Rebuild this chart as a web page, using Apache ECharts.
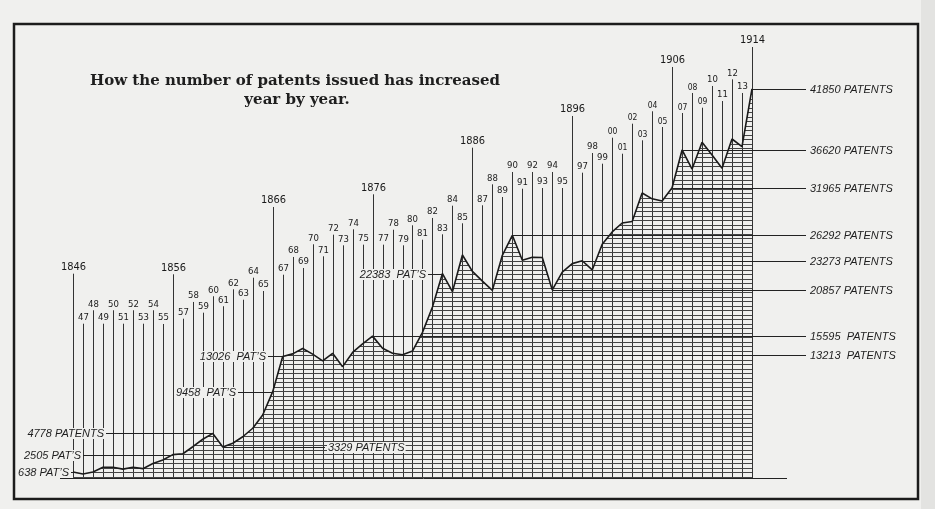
<!DOCTYPE html>
<html><head><meta charset="utf-8">
<script src="https://cdn.jsdelivr.net/npm/echarts@6/dist/echarts.min.js"></script>
<style>html,body{margin:0;padding:0;background:#efefed;}#chart{width:935px;height:509px;}</style>
</head><body><div id="chart"></div>
<script>
// ---------- DATA ----------
const years = [1846,1847,1848,1849,1850,1851,1852,1853,1854,1855,1856,1857,1858,1859,1860,1861,1862,1863,1864,1865,
  1866,1867,1868,1869,1870,1871,1872,1873,1874,1875,1876,1877,1878,1879,1880,1881,1882,1883,1884,1885,
  1886,1887,1888,1889,1890,1891,1892,1893,1894,1895,1896,1897,1898,1899,1900,1901,1902,1903,1904,1905,
  1906,1907,1908,1909,1910,1911,1912,1913,1914];
const yearLabels = ['1846','47','48','49','50','51','52','53','54','55','1856','57','58','59','60','61','62','63','64','65',
  '1866','67','68','69','70','71','72','73','74','75','1876','77','78','79','80','81','82','83','84','85',
  '1886','87','88','89','90','91','92','93','94','95','1896','97','98','99','00','01','02','03','04','05',
  '1906','07','08','09','10','11','12','13','1914'];
const patents = [638,420,650,1150,1150,950,1150,1000,1550,1930,2505,2600,3350,4150,4778,3329,3720,4420,5330,6750,
  9250,13026,13300,13870,13270,12540,13360,11930,13450,14360,15200,13900,13360,13213,13600,15600,18320,21900,19960,23890,
  22130,21100,20110,23860,26000,23330,23650,23620,20150,22050,22970,23273,22290,25050,26360,27320,27490,30540,29910,29680,
  31100,35150,33100,35970,34610,33180,36320,35500,41700];
// level (in patents) up to which each year's guide line is drawn
const guideTop = [21890,16530,17970,16530,17970,16530,17970,16530,17970,16500,21825,17070,18860,17710,19470,18400,20220,19100,21460,20035,
  29035,21780,23680,22500,25040,23750,26070,24930,26645,25000,30395,25000,26600,24930,27075,25530,27860,26110,29175,27290,
  35390,29220,31465,30105,32785,30995,32785,31070,32785,31070,38785,32710,34820,33675,36460,34745,37960,36180,39290,37605,
  44035,39105,41250,39675,42000,40390,42715,41250,46175];
const annYears = [1914,1907,1906,1890,1897,1894,1876,1879,1846,1856,1860,1866,1867,1883,1861];
const annTexts = ['41850 PATENTS','36620 PATENTS','31965 PATENTS','26292 PATENTS','23273 PATENTS','20857 PATENTS',
  '15595  PATENTS','13213  PATENTS','638 PAT\u2019S','2505 PAT\u2019S','4778 PATENTS','9458  PAT\u2019S','13026  PAT\u2019S',
  '22383  PAT\u2019S','3329 PATENTS'];

// ---------- LAYOUT ----------
const PX_PER_YEAR = 9.985, X0 = 73;          // 1846 sits at x=73
const VAL_PER_PX = 107.14, Y0 = 478;          // zero sits at y=478
const xMin = 1846 - X0 / PX_PER_YEAR, xMax = xMin + 935 / PX_PER_YEAR;
const yMin = -(509 - Y0) * VAL_PER_PX, yMax = Y0 * VAL_PER_PX;
const annLayout = [
  {side:'right'},{side:'right'},{side:'right'},{side:'right'},{side:'right'},{side:'right'},{side:'right'},{side:'right'},
  {side:'left', tx:70},{side:'left', tx:82},{side:'left', tx:105},{side:'left', tx:237},{side:'left', tx:267},{side:'left', tx:427},
  {side:'inline', tx:327}
];
const RIGHT_LINE_END = 806, RIGHT_TEXT_X = 810;
const ANN_FONT = 'italic 11px "Liberation Sans", Arial, sans-serif';
const YEAR_FONT = '"Liberation Sans Narrow", "DejaVu Sans Condensed", "Liberation Sans", sans-serif';
const TITLE_FONT = 'bold 15px "DejaVu Serif", "Liberation Serif", serif';
const PAPER = '#f0f0ee';

// hatch pattern (horizontal rules)
const pc = document.createElement('canvas');
pc.width = 8; pc.height = 9;
const ctx = pc.getContext('2d');
ctx.fillStyle = '#444444';
ctx.fillRect(0, 0, 8, 1);
ctx.fillRect(0, 4, 8, 1);

const chart = echarts.init(document.getElementById('chart'), null, {renderer:'canvas'});

const guideData = years.map((y, i) => [y, guideTop[i], i]);
const annData = annYears.map((y, i) => [y, patents[years.indexOf(y)], i]);

function fontSizeFor(lbl) {
  if (lbl.length === 4) return 11;
  if (lbl[0] === '0') return 8.5;
  return 9.5;
}

chart.setOption({
  backgroundColor: PAPER,
  animation: false,
  grid: {left: 0, right: 0, top: 0, bottom: 0},
  xAxis: {type: 'value', min: xMin, max: xMax, show: false},
  yAxis: {type: 'value', min: yMin, max: yMax, show: false, splitLine: {show: false}},
  graphic: [
    {type: 'rect', shape: {x: 921, y: 0, width: 14, height: 509}, style: {fill: '#e3e3e1'}, z: 0},
    {type: 'rect', shape: {x: 14, y: 24, width: 904, height: 475}, style: {fill: 'none', stroke: '#1c1c1c', lineWidth: 2.5}, z: 10},
    {type: 'text', style: {text: 'How the number of patents issued has increased', x: 295, y: 81, align: 'center', verticalAlign: 'middle',
      font: TITLE_FONT, fill: '#1e1e1e'}, z: 10},
    {type: 'text', style: {text: 'year by year.', x: 297, y: 100, align: 'center', verticalAlign: 'middle',
      font: TITLE_FONT, fill: '#1e1e1e'}, z: 10}
  ],
  series: [
    {
      type: 'custom', name: 'guides', z: 1, clip: false,
      data: guideData,
      renderItem: function (params, api) {
        const i = api.value(2);
        const p0 = api.coord([api.value(0), 0]);
        const p1 = api.coord([api.value(0), api.value(1)]);
        const x = Math.round(p0[0]) + 0.5;
        const lbl = yearLabels[i];
        return {type: 'group', children: [
          {type: 'line', shape: {x1: x, y1: p0[1], x2: x, y2: p1[1]}, style: {stroke: '#333', lineWidth: 1}},
          {type: 'text', style: {text: lbl, x: x, y: p1[1] - 1, align: 'center', verticalAlign: 'bottom',
            fontSize: fontSizeFor(lbl), fontFamily: YEAR_FONT, fill: '#1a1a1a'}}
        ]};
      }
    },
    {
      type: 'line', name: 'patents', z: 3,
      data: years.map((y, i) => [y, patents[i]]),
      symbol: 'none',
      lineStyle: {color: '#1a1a1a', width: 1.6},
      areaStyle: {color: {image: pc, repeat: 'repeat'}, opacity: 1},
      markLine: {
        symbol: 'none', silent: true, label: {show: false},
        lineStyle: {color: '#222', width: 1, type: 'solid'},
        data: [[{coord: [xMin + 60 / PX_PER_YEAR, 0]}, {coord: [xMin + 787 / PX_PER_YEAR, 0]}]]
      }
    },
    {
      type: 'custom', name: 'annotations', z: 5, clip: false,
      data: annData,
      renderItem: function (params, api) {
        const i = api.value(2);
        const p = api.coord([api.value(0), api.value(1)]);
        const y = Math.round(p[1]) + 0.5;
        const L = annLayout[i];
        const txt = annTexts[i];
        let line, text;
        if (L.side === 'right') {
          line = {x1: p[0], y1: y, x2: RIGHT_LINE_END, y2: y};
          text = {text: txt, x: RIGHT_TEXT_X, y: y, align: 'left', verticalAlign: 'middle'};
        } else if (L.side === 'left') {
          line = {x1: L.tx + 1, y1: y, x2: p[0], y2: y};
          text = {text: txt, x: L.tx, y: y, align: 'right', verticalAlign: 'middle', backgroundColor: PAPER, padding: [0, 1]};
        } else {
          line = {x1: p[0], y1: y, x2: L.tx - 2, y2: y};
          text = {text: txt, x: L.tx, y: y, align: 'left', verticalAlign: 'middle', backgroundColor: PAPER, padding: [0, 1]};
        }
        text.font = ANN_FONT;
        text.fill = '#1e1e1e';
        return {type: 'group', children: [
          {type: 'line', shape: line, style: {stroke: '#222', lineWidth: 1}},
          {type: 'text', style: text}
        ]};
      }
    }
  ]
});
</script></body></html>
